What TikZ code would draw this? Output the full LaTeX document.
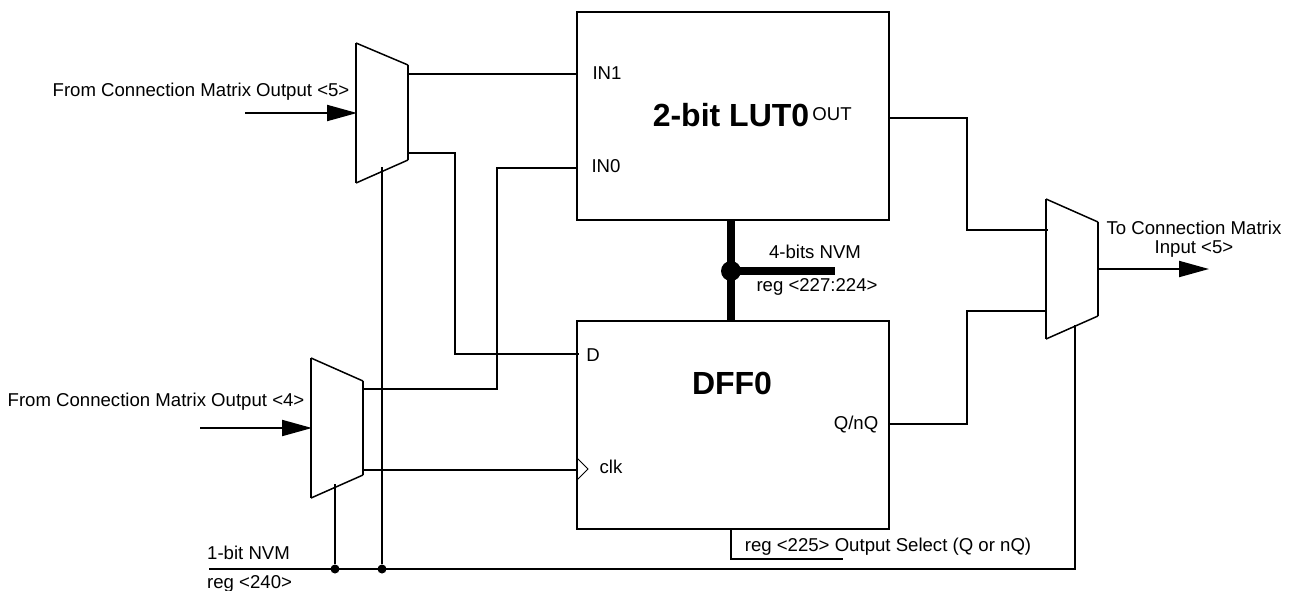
\documentclass[tikz,border=0pt]{standalone}
\usepackage{fontspec}
\setmainfont{Liberation Sans}
\usetikzlibrary{arrows.meta}

\begin{document}
\begin{tikzpicture}[x=1pt,y=-1pt]
\tikzstyle{wire}=[line width=2pt]
\tikzstyle{inarrow}=[wire,-{Triangle[length=30pt,width=16pt]},shorten >=-1pt]
\tikzstyle{bus}=[line width=8pt]
\tikzstyle{block}=[draw,line width=2pt,minimum width=312pt,minimum height=208pt,inner sep=0pt]
\tikzstyle{mux}=[line width=1.5pt,line join=miter]
\tikzstyle{dot}=[circle,fill=black,inner sep=0pt,minimum size=9pt]
\tikzstyle{lbl}=[font=\fontsize{18.6}{19}\selectfont,inner sep=0pt,align=center]
\tikzstyle{title}=[font=\fontsize{32}{36}\selectfont\bfseries,inner sep=0pt]
\useasboundingbox (0,0) rectangle (1290,590);

\node[block] (LUT) at (733,116) {};
\node[block] (DFF) at (733,424.5) {};
\node[title] (T1) at (731,115) {2-bit LUT0};
\node[title] (T2) at (732,383) {DFF0};

\node[lbl] (L1) at (607,73) {IN1};
\node[lbl] (L2) at (606,166) {IN0};
\node[lbl] (L3) at (832,114) {OUT};
\node[lbl] (L4) at (593,355) {D};
\node[lbl] (L5) at (611,467) {clk};
\node[lbl] (L6) at (856,425) {Q/nQ};
\node[lbl] (L7) at (201,92) {From Connection Matrix Output <5>};
\node[lbl] (L8) at (156,402) {From Connection Matrix Output <4>};
\node[lbl] (L9) at (1194,239.5) {To Connection Matrix\\Input <5>};
\node[lbl] (L10) at (815,252) {4-bits NVM};
\node[lbl] (L11) at (817,287) {reg <227:224>};
\node[lbl] (L12) at (888,547) {reg <225> Output Select (Q or nQ)};
\node[lbl,anchor=west] (L13) at (207,553) {1-bit NVM};
\node[lbl,anchor=west] (L14) at (207,583.5) {reg <240>};

% muxes
\draw[mux] (356,43) -- (408,65) (408,160) -- (356,183);
\draw[wire] (356,43) -- (356,183) (408,65) -- (408,160);
\draw[mux] (311,358) -- (363,381) (363,475) -- (311,498);
\draw[wire] (311,358) -- (311,498) (363,381) -- (363,475);
\draw[mux] (1046,199) -- (1098,222) (1098,316) -- (1046,339);
\draw[wire] (1046,199) -- (1046,339) (1098,222) -- (1098,316);

\coordinate (A1) at (245,113);
\coordinate (A2) at (356,113);
\coordinate (B1) at (200,428);
\coordinate (B2) at (311,428);
\coordinate (C1) at (1098,269);
\coordinate (C2) at (1208,269);
\draw[inarrow] (A1) -- (A2);
\draw[inarrow] (B1) -- (B2);
\draw[inarrow] (C1) -- (C2);

% LUT and DFF inputs
\coordinate (M1a) at (408,74);
\coordinate (M1b) at (408,153);
\coordinate (M2a) at (363,389);
\coordinate (M2b) at (363,470);
\coordinate (IN1) at (577,74);
\coordinate (IN0) at (577,168);
\coordinate (D) at (578.5,354);
\coordinate (CK) at (577,470);
\draw[wire] (M1a) -- (IN1);
\draw[wire] (M1b) -| (455,354) -- (D);
\draw[wire] (M2a) -| (497,168) -- (IN0);
\draw[wire] (M2b) -- (CK);
\draw[line width=1pt] (577,458) -- (588,469) -- (577,480);

% outputs
\coordinate (OUT) at (889,118);
\coordinate (Q) at (889,424);
\coordinate (M3a) at (1048,230);
\coordinate (M3b) at (1046,311);
\draw[wire] (OUT) -| (967,230) -- (M3a);
\draw[wire] (Q) -| (967,311) -- (M3b);

% nvm
\coordinate (B0) at (731,220);
\coordinate (B3) at (731,320);
\coordinate (B4) at (835,271);
\node[dot,minimum size=20pt] (J0) at (731,271) {};
\draw[bus] (B0) -- (B3);
\draw[bus] (J0.center) -- (B4);

\coordinate (S0) at (731,529);
\coordinate (S1) at (843,559);
\draw[wire] (S0) |- (S1);

\coordinate (N0) at (209,569);
\coordinate (N1) at (1075,569);
\coordinate (N2) at (1075,325);
\node[dot] (J1) at (335,569) {};
\node[dot] (J2) at (382,569) {};
\coordinate (S2) at (335,484);
\coordinate (S3) at (382,167);
\draw[wire] (N0) -- (N1) -- (N2);
\draw[wire] (J1) -- (S2);
\draw[wire] (J2) -- (S3);
\end{tikzpicture}
\end{document}
